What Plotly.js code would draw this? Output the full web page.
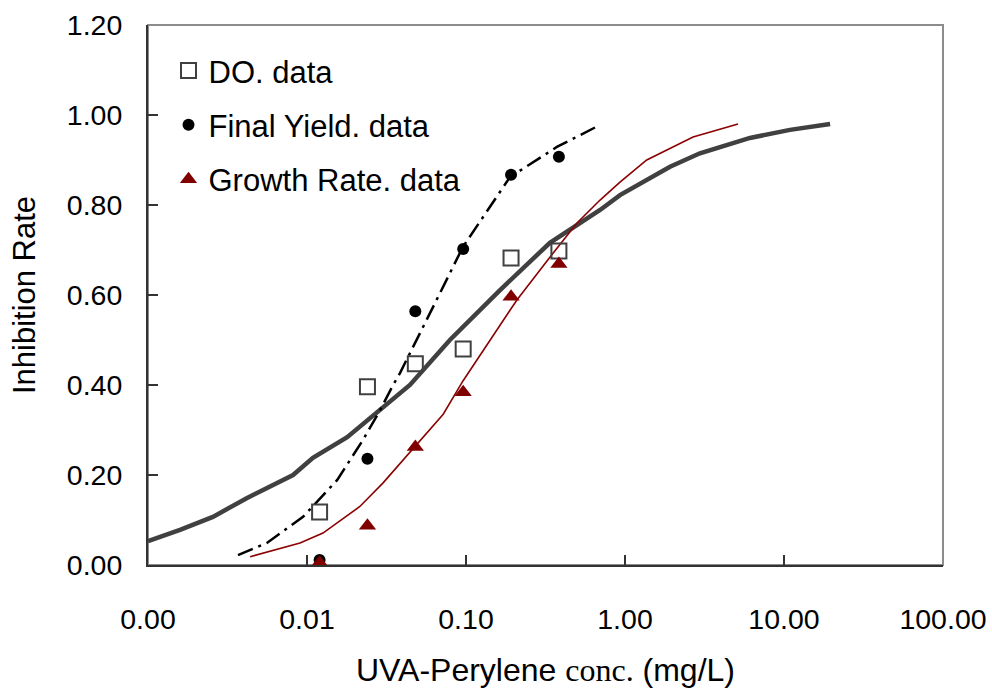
<!DOCTYPE html>
<html>
<head>
<meta charset="utf-8">
<script src="https://cdn.plot.ly/plotly-3.0.1.min.js"></script>
<style>html,body{margin:0;padding:0;background:#fff;}#chart{width:992px;height:695px;}</style>
</head>
<body>
<div id="chart"></div>
<script>
// Measured data (concentration in mg/L)
const conc = [0.012, 0.024, 0.048, 0.096, 0.192, 0.384];
const doData = [0.118, 0.396, 0.447, 0.480, 0.682, 0.698];
const fyData = [0.011, 0.236, 0.564, 0.702, 0.867, 0.907];
const grData = [0.005, 0.087, 0.262, 0.384, 0.596, 0.669];

// Fitted curves
const doFitX = [0.001, 0.00159, 0.00256, 0.0042, 0.00817, 0.0109, 0.0179, 0.0288, 0.0444, 0.0792, 0.1637, 0.337, 0.697, 0.93, 1.92, 2.96, 6.11, 10.9, 19.5];
const doFitY = [0.053, 0.078, 0.107, 0.149, 0.200, 0.238, 0.284, 0.344, 0.400, 0.500, 0.611, 0.716, 0.789, 0.822, 0.885, 0.915, 0.949, 0.967, 0.980];

const grFitX = [0.00439, 0.00904, 0.0126, 0.0215, 0.030, 0.0445, 0.0719, 0.0957, 0.209, 0.337, 0.499, 0.697, 0.93, 1.37, 2.68, 5.14];
const grFitY = [0.0185, 0.049, 0.071, 0.130, 0.182, 0.250, 0.335, 0.409, 0.589, 0.684, 0.760, 0.811, 0.851, 0.900, 0.951, 0.980];

const fyFitX = [0.00368, 0.0056, 0.00944, 0.0155, 0.0225, 0.0288, 0.0348, 0.0385, 0.062, 0.0957, 0.189, 0.373, 0.697];
const fyFitY = [0.022, 0.049, 0.107, 0.189, 0.278, 0.344, 0.400, 0.427, 0.573, 0.707, 0.862, 0.929, 0.978];

const xTickVals = [0.001, 0.01, 0.1, 1, 10, 100];
const xTickText = ['0.00', '0.01', '0.10', '1.00', '10.00', '100.00'];
const yTickVals = [0, 0.2, 0.4, 0.6, 0.8, 1.0, 1.2];

const FONT = 'Liberation Sans, Arial, sans-serif';

const traces = [
  {x: doFitX, y: doFitY, mode: 'lines', line: {color: '#404040', width: 4.5}, showlegend: false, hoverinfo: 'skip'},
  {x: grFitX, y: grFitY, mode: 'lines', line: {color: '#8B0000', width: 1.6}, showlegend: false, hoverinfo: 'skip'},
  {x: fyFitX, y: fyFitY, mode: 'lines', line: {color: '#000000', width: 2.5, dash: '16px,6px,3px,6px'}, showlegend: false, hoverinfo: 'skip'},
  {x: conc, y: doData, mode: 'markers', name: 'DO. data', legendgroup: 'a', cliponaxis: false,
   marker: {symbol: 'square-open', size: 15, color: '#404040', line: {width: 2, color: '#404040'}}},
  {x: conc, y: fyData, mode: 'markers', name: 'Final Yield. data', legendgroup: 'b', cliponaxis: false,
   marker: {symbol: 'circle', size: 12, color: '#000000'}},
  {x: conc, y: grData, mode: 'markers', name: 'Growth Rate. data', legendgroup: 'c', cliponaxis: false,
   marker: {symbol: 'triangle-up', size: 15, color: '#800000'}}
];

const layout = {
  width: 992, height: 695,
  margin: {l: 148, r: 49, t: 25, b: 130, pad: 0},
  paper_bgcolor: '#ffffff', plot_bgcolor: '#ffffff',
  font: {family: FONT, size: 28, color: '#000'},
  showlegend: true,
  legend: {x: 0.0258, y: 0.965, xanchor: 'left', yanchor: 'top', bgcolor: 'rgba(0,0,0,0)',
           font: {family: FONT, size: 31, color: '#000'}, tracegroupgap: 11, traceorder: 'grouped'},
  xaxis: {
    type: 'log', range: [-3, 2], tickvals: xTickVals, ticktext: xTickText,
    ticks: 'inside', ticklen: 10, tickwidth: 1.5, tickcolor: '#333',
    showline: true, linecolor: '#333', linewidth: 2, showgrid: false, zeroline: false,
    ticklabelstandoff: 28, tickfont: {family: FONT, size: 28.5},
    title: {text: 'UVA-Perylene <span style="font-family:Liberation Serif, Times New Roman, serif">conc.</span> (mg/L)', font: {family: FONT, size: 32}, standoff: 24}
  },
  yaxis: {
    range: [0, 1.2], tickvals: yTickVals, tickformat: '.2f',
    ticks: 'inside', ticklen: 10, tickwidth: 1.5, tickcolor: '#333',
    showline: true, linecolor: '#333', linewidth: 2, showgrid: false, zeroline: false,
    ticklabelstandoff: 18, tickfont: {family: FONT, size: 28.5},
    title: {text: 'Inhibition Rate', font: {family: FONT, size: 31}, standoff: 22}
  },
  shapes: [
    {type: 'rect', xref: 'paper', yref: 'paper', x0: 0, x1: 1, y0: 0, y1: 1, line: {color: '#8c8c8c', width: 2}, layer: 'below'}
  ]
};

Plotly.newPlot('chart', traces, layout, {staticPlot: true, displayModeBar: false});
</script>
</body>
</html>
